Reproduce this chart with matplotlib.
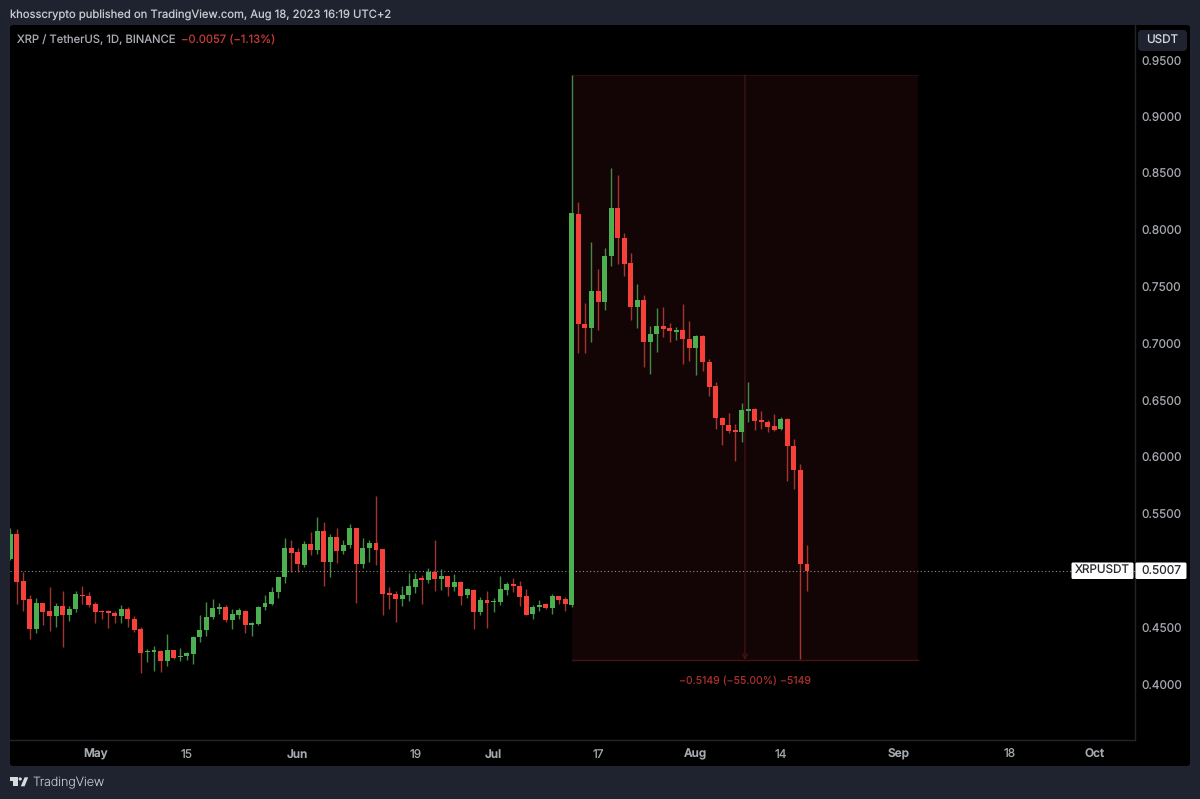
import pandas as pd
import matplotlib
matplotlib.use('Agg')
import matplotlib.pyplot as plt
import matplotlib.dates as mdates
from matplotlib.patches import FancyBboxPatch, Polygon, Circle

plt.rcParams['font.family'] = ['Inter', 'DejaVu Sans']
plt.rcParams['text.hinting'] = 'none'

# daily candles, XRP/USDT
start_date = '2023-04-18'
opens = [
    .5108, .5328, .4914, .4756, .4495, .4720, .4653, .4612, .4697, .4618,
    .4668, .4797, .4782, .4712, .4656, .4650, .4635, .4609, .4671, .4585,
    .4495, .4292, .4292, .4304, .4213, .4307, .4245, .4257, .4277, .4424,
    .4486, .4600, .4673, .4688, .4577, .4621, .4656, .4533, .4536, .4685,
    .4715, .4820, .4949, .5207, .5172, .5061, .5246, .5190, .5360, .5087,
    .5304, .5184, .5237, .5383, .5067, .5207, .5251, .5196, .4808, .4806,
    .4756, .4794, .4867, .4941, .4929, .4999, .4938, .4961, .4864, .4905,
    .4791, .4841, .4644, .4750, .4732, .4732, .4841, .4894, .4873, .4782,
    .4627, .4688, .4712, .4682, .4782, .4756, .4705, .8146, .7178, .7143,
    .7468, .7372, .7776, .8199, .7935, .7715, .7328, .7389, .7020, .7090,
    .7160, .7143, .7108, .7125, .7046, .6967, .7072, .6844, .6632, .6351,
    .6289, .6245, .6228, .6412, .6430, .6333, .6316, .6280, .6254, .6342,
    .6104, .5893, .5064]
highs = [
    .5381, .5375, .4993, .4794, .4764, .4726, .4861, .4726, .4832, .4700,
    .4829, .4870, .4817, .4729, .4662, .4662, .4650, .4709, .4685, .4609,
    .4515, .4318, .4348, .4310, .4448, .4310, .4324, .4295, .4433, .4618,
    .4735, .4759, .4726, .4706, .4673, .4676, .4659, .4553, .4697, .4794,
    .4867, .4955, .5293, .5281, .5205, .5272, .5351, .5477, .5433, .5331,
    .5386, .5281, .5416, .5386, .5293, .5281, .5665, .5199, .4861, .4829,
    .4870, .4984, .4990, .4970, .5034, .5275, .5026, .4964, .4979, .4920,
    .4852, .4844, .4773, .4829, .4764, .4961, .4911, .4941, .4920, .4847,
    .4706, .4747, .4720, .4806, .4788, .4779, .9369, .8252, .7363, .7900,
    .7662, .7847, .8551, .8489, .7979, .7803, .7530, .7433, .7160, .7319,
    .7328, .7187, .7152, .7354, .7204, .7081, .7081, .6870, .6668, .6360,
    .6395, .6298, .6483, .6668, .6439, .6412, .6333, .6386, .6360, .6351,
    .6166, .5946, .5233]
lows = [
    .5102, .4715, .4656, .4406, .4459, .4533, .4477, .4512, .4339, .4562,
    .4641, .4715, .4691, .4550, .4580, .4503, .4550, .4550, .4515, .4465,
    .4107, .4207, .4128, .4116, .4166, .4233, .4213, .4219, .4184, .4377,
    .4436, .4583, .4624, .4553, .4497, .4585, .4459, .4436, .4533, .4662,
    .4706, .4764, .4902, .4998, .4998, .5040, .5149, .5158, .4873, .4955,
    .5075, .5158, .5207, .4723, .5031, .5087, .5058, .4615, .4668, .4559,
    .4697, .4744, .4814, .4715, .4899, .4829, .4841, .4782, .4829, .4703,
    .4764, .4497, .4618, .4503, .4644, .4703, .4791, .4820, .4697, .4615,
    .4580, .4653, .4668, .4627, .4715, .4650, .4688, .6923, .6923, .7020,
    .7125, .7301, .7688, .7706, .7600, .7213, .7143, .6800, .6738, .6932,
    .7064, .7020, .7037, .6826, .6852, .6729, .6764, .6544, .6254, .6113,
    .6219, .5972, .6140, .6316, .6245, .6254, .6228, .6236, .6245, .5796,
    .5726, .4230, .4828]
closes = [
    .5331, .4911, .4753, .4492, .4720, .4647, .4612, .4697, .4618, .4668,
    .4803, .4785, .4706, .4647, .4641, .4632, .4609, .4671, .4583, .4489,
    .4283, .4301, .4307, .4213, .4307, .4239, .4257, .4280, .4427, .4489,
    .4600, .4676, .4691, .4571, .4624, .4659, .4527, .4541, .4691, .4720,
    .4823, .4952, .5207, .5166, .5064, .5246, .5187, .5360, .5087, .5304,
    .5184, .5237, .5383, .5067, .5210, .5251, .5193, .4803, .4794, .4759,
    .4797, .4870, .4938, .4929, .4999, .4938, .4961, .4864, .4905, .4785,
    .4844, .4647, .4750, .4723, .4744, .4844, .4894, .4873, .4776, .4621,
    .4688, .4703, .4676, .4782, .4750, .4712, .8155, .7178, .7143, .7468,
    .7372, .7776, .8199, .7935, .7706, .7328, .7389, .7020, .7090, .7160,
    .7134, .7116, .7125, .7046, .6967, .7072, .6844, .6624, .6351, .6289,
    .6236, .6228, .6421, .6430, .6324, .6316, .6272, .6245, .6342, .6104,
    .5893, .5066, .5007]

# 0.5000 sits under the last price label, so it has no tick of its own
price_ticks = [.40, .45, .55, .60, .65, .70, .75, .80, .85, .90, .95]
date_ticks = ['2023-05-01', '2023-05-15', '2023-06-01', '2023-06-19', '2023-07-01',
              '2023-07-17', '2023-08-01', '2023-08-14', '2023-09-01', '2023-09-18',
              '2023-10-01']
date_labels = ['May', '15', 'Jun', '19', 'Jul', '17', 'Aug', '14', 'Sep', '18', 'Oct']

# price range tool
range_start = '2023-07-13'
range_end = '2023-09-04'
range_top = 0.9369
range_bottom = 0.4220
range_text = '−0.5149 (−55.00%) −5149'

UP = '#4caf50'
DOWN = '#f6403a'
UP_WICK = '#44894a'
DOWN_WICK = '#a33531'
BG = '#1f2330'
W, H = 1200, 799

fig = plt.figure(figsize=(12, 7.99), dpi=100, facecolor=BG)

# page chrome, in pixels
bg = fig.add_axes([0, 0, 1, 1], zorder=0)
bg.set_xlim(0, W)
bg.set_ylim(H, 0)
bg.axis('off')
bg.add_patch(FancyBboxPatch((10, 25), 1180, 741, boxstyle='round,pad=0,rounding_size=3',
                            fc='black', ec='none'))

# chart pane
left, right, top, bottom = 10, 1134.7, 25, 740
ax = fig.add_axes([left / W, 1 - bottom / H, (right - left) / W, (bottom - top) / H],
                  zorder=1, facecolor='none')

dates = pd.date_range(start_date, periods=len(opens), freq='D')
x = mdates.date2num(dates)
colors = [UP if c >= o else DOWN for o, c in zip(opens, closes)]
wick_colors = [UP_WICK if c >= o else DOWN_WICK for o, c in zip(opens, closes)]
heights = [max(abs(c - o), 0.0012) for o, c in zip(opens, closes)]
bottoms = [min(o, c) for o, c in zip(opens, closes)]

x0 = mdates.date2num(pd.Timestamp(range_start))
x1 = mdates.date2num(pd.Timestamp(range_end))
mid = (x0 + x1) / 2
ax.fill_between([x0, x1], range_bottom, range_top, color='#130505', lw=0, zorder=1)
ax.plot([x0, x1], [range_top, range_top], color='#2a0c0c', lw=0.8, zorder=1.5)
ax.plot([x0, x1], [range_bottom, range_bottom], color='#441414', lw=1, zorder=1.5)
ax.annotate('', xy=(mid, range_bottom), xytext=(mid, range_top),
            arrowprops=dict(arrowstyle='->', color='#441414', lw=0.9,
                            shrinkA=0, shrinkB=0, mutation_scale=9), zorder=1.6)
ax.annotate(range_text, xy=(mid, range_bottom), xytext=(0, -21), textcoords='offset pixels',
            ha='center', va='center', color='#a8302d', fontsize=7.6)

ax.vlines(x, lows, highs, colors=wick_colors, lw=1.0, zorder=2)
ax.bar(x, heights, bottom=bottoms, width=0.76, color=colors, lw=0, zorder=3)

last_price = closes[-1]
ax.axhline(last_price, color='#8a8d94', lw=0.8, ls=(0, (1, 2.2)), zorder=4)

ax.set_xlim(x[0] - 0.05, x[0] + (right - left) / 6.53 - 0.05)
ax.set_ylim(0.3517, 0.9809)
ax.yaxis.tick_right()
ax.set_yticks(price_ticks)
ax.set_yticklabels(['%.4f' % p for p in price_ticks])
ax.set_xticks(mdates.date2num(pd.to_datetime(date_ticks)))
ax.set_xticklabels(date_labels)
ax.tick_params(axis='y', length=0, pad=4.5, labelsize=8.5, labelcolor='#a6a9b0')
ax.tick_params(axis='x', length=0, pad=6.5, labelsize=8.5, labelcolor='#a6a9b0')
for label, text in zip(ax.get_xticklabels(), date_labels):
    if not text.isdigit():
        label.set_fontweight('semibold')
for side in ['top', 'left']:
    ax.spines[side].set_visible(False)
for side in ['right', 'bottom']:
    ax.spines[side].set_color('#242427')
    ax.spines[side].set_linewidth(1)

# overlay: labels and logo
fg = fig.add_axes([0, 0, 1, 1], zorder=2, facecolor='none')
fg.set_xlim(0, W)
fg.set_ylim(H, 0)
fg.axis('off')

fg.text(10, 15, 'khosscrypto published on TradingView.com, Aug 18, 2023 16:19 UTC+2',
        color='#c9cbd1', fontsize=8.1, va='center')
fg.text(17, 40, 'XRP / TetherUS, 1D, BINANCE', color='#a9acb3', fontsize=8.1, va='center')
fg.text(181, 40, '−0.0057 (−1.13%)', color='#c23b36', fontsize=8.1, va='center')

fg.add_patch(FancyBboxPatch((1138, 30), 49, 21, boxstyle='round,pad=0,rounding_size=4',
                            fc='#1f2330', ec='none'))
fg.text(1162.5, 40.5, 'USDT', color='#d8dae0', fontsize=8.4, ha='center', va='center')

fg.add_patch(FancyBboxPatch((1071.5, 562.5), 62, 16.5, boxstyle='round,pad=0,rounding_size=1.5',
                            fc='white', ec='none'))
fg.add_patch(FancyBboxPatch((1135.5, 562.5), 51, 16.5, boxstyle='round,pad=0,rounding_size=1.5',
                            fc='white', ec='none'))
fg.text(1102.5, 571, 'XRPUSDT', color='#26282e', fontsize=8.4, ha='center', va='center')
fg.text(1161, 571, '%.4f' % last_price, color='#26282e', fontsize=8.6, ha='center', va='center')

logo = '#d8dae0'
fg.add_patch(Polygon([(9.5, 777.3), (17.8, 777.3), (17.8, 786.3), (13.3, 786.3),
                      (13.3, 780.6), (9.5, 780.6)], fc=logo, ec='none'))
fg.add_patch(Circle((20.2, 779), 1.6, fc=logo, ec='none'))
fg.add_patch(Polygon([(20.8, 786.3), (24.6, 777.3), (28.2, 777.3), (24.6, 786.3)],
                     fc=logo, ec='none'))
fg.text(32, 783, 'TradingView', color='#c9cbd1', fontsize=9, va='center', fontweight='light')

fig.savefig('out.png', dpi=100, facecolor=BG)
